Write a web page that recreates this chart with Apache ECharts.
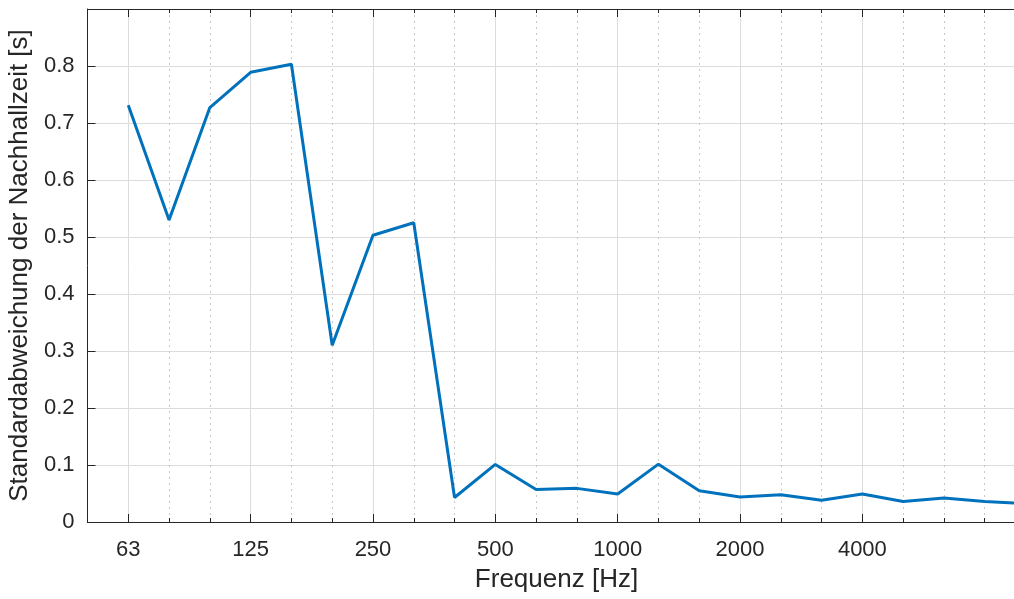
<!DOCTYPE html>
<html>
<head>
<meta charset="utf-8">
<script src="https://cdn.jsdelivr.net/npm/echarts@6/dist/echarts.min.js"></script>
<style>
html,body{margin:0;padding:0;background:#fff;overflow:hidden;}
#c{width:1014px;height:599px;}
</style>
</head>
<body>
<div id="c"></div>
<script>
// third-octave band centre frequencies (Hz)
var bands = ['50','63','80','100','125','160','200','250','315','400','500','630','800','1000','1250','1600','2000','2500','3150','4000','5000','6300','8000','10000'];
// labelled frequencies
var tickLabels = ['63','125','250','500','1000','2000','4000'];
// standard deviation of reverberation time [s]
var stdDev = [null,0.731,0.530,0.727,0.789,0.803,0.310,0.503,0.525,0.043,0.101,0.057,0.059,0.049,0.1015,0.055,0.044,0.048,0.038,0.049,0.036,0.042,0.036,0.032];
var yTicks = [0,0.1,0.2,0.3,0.4,0.5,0.6,0.7,0.8];

var FONT = 'Liberation Sans, Arial, Helvetica, sans-serif';
var TXT = '#262626';
function isMajor(idx){ return tickLabels.indexOf(bands[idx]) >= 0; }

var chart = echarts.init(document.getElementById('c'), null, {renderer:'canvas'});
var common = {type:'category', data:bands, boundaryGap:false, gridIndex:0};
chart.setOption({
  animation:false,
  backgroundColor:'#ffffff',
  grid:{left:87.5, top:9, width:938, height:513, containLabel:false, outerBoundsMode:'none'},
  xAxis:[
    Object.assign({}, common, {
      position:'bottom',
      axisLine:{show:true, lineStyle:{color:TXT, width:1}},
      axisTick:{show:true, inside:true, length:4, interval:0, lineStyle:{color:TXT}},
      axisLabel:{show:false},
      splitLine:{show:true, interval:function(i){return !isMajor(i) && i>0;}, lineStyle:{color:'#c8c8c8', width:1, type:[2,4]}}
    }),
    Object.assign({}, common, {
      position:'bottom',
      name:'Frequenz [Hz]', nameLocation:'middle', nameGap:45,
      nameTextStyle:{fontFamily:FONT, fontSize:26, color:TXT},
      axisLine:{show:true, lineStyle:{color:TXT, width:1}},
      axisTick:{show:true, inside:true, length:8, interval:function(i){return isMajor(i);}, lineStyle:{color:TXT}},
      axisLabel:{show:true, interval:function(i){return isMajor(i);}, fontFamily:FONT, fontSize:22, color:TXT, margin:17},
      splitLine:{show:true, interval:function(i){return isMajor(i);}, lineStyle:{color:'#dcdcdc', width:1}}
    }),
    Object.assign({}, common, {
      position:'top',
      axisLine:{show:true, lineStyle:{color:TXT, width:1}},
      axisTick:{show:true, inside:true, length:4, interval:0, lineStyle:{color:TXT}},
      axisLabel:{show:false}, splitLine:{show:false}
    }),
    Object.assign({}, common, {
      position:'top',
      axisLine:{show:true, lineStyle:{color:TXT, width:1}},
      axisTick:{show:true, inside:true, length:8, interval:function(i){return isMajor(i);}, lineStyle:{color:TXT}},
      axisLabel:{show:false}, splitLine:{show:false}
    })
  ],
  yAxis:[{
    type:'value', min:0, max:0.9, interval:0.1, position:'left',
    name:'Standardabweichung der Nachhallzeit [s]', nameLocation:'middle', nameGap:52,
    nameTextStyle:{fontFamily:FONT, fontSize:26, color:TXT},
    axisLine:{show:true, lineStyle:{color:TXT, width:1}},
    axisTick:{show:true, inside:true, length:8, lineStyle:{color:TXT}},
    axisLabel:{show:true, fontFamily:FONT, fontSize:22, color:TXT, margin:13,
      formatter:function(v){ var r=Math.round(v*10)/10; return yTicks.indexOf(r)>=0 ? (r===0?'0':r.toFixed(1)) : ''; }},
    splitLine:{show:true, lineStyle:{color:'#dcdcdc', width:1}}
  }],
  series:[{
    type:'line', xAxisIndex:0, yAxisIndex:0, data:stdDev,
    showSymbol:false, symbol:'none', connectNulls:false, clip:true,
    lineStyle:{color:'#0072BD', width:3},
    itemStyle:{color:'#0072BD'}
  }]
});
</script>
</body>
</html>
